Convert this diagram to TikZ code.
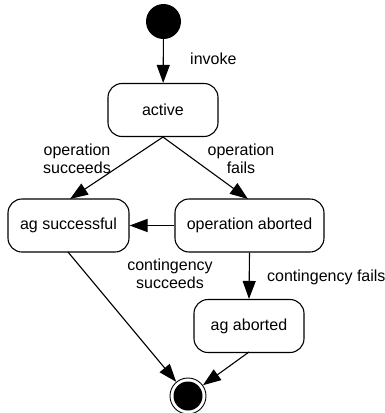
\documentclass[tikz,border=0pt]{standalone}
\usepackage{fontspec}
\setmainfont{Liberation Sans}
\usetikzlibrary{arrows.meta}
\begin{document}
\begin{tikzpicture}[x=1pt,y=-1pt,
  every node/.style={font=\fontsize{16}{18}\selectfont},
  state/.style={draw,line width=1.1pt,rounded corners=14pt,minimum height=53pt,inner sep=0pt},
  trans/.style={draw,line width=1.1pt,-{Triangle[length=18pt,width=13pt]}},
  lbl/.style={align=center,inner sep=0pt}]
\useasboundingbox (0,0) rectangle (385,413);
% start and end pseudo-states
\node[circle,fill=black,minimum size=35pt,inner sep=0pt] (start) at (163.5,21.5) {};
\node[circle,draw,line width=0.9pt,minimum size=36pt,inner sep=0pt] (final) at (188,396) {};
\fill (final.center) circle (14.5pt);
% states
\node[state,minimum width=110pt] (active) at (163,110) {active};
\node[state,minimum width=121pt] (succ) at (68.5,225.5) {ag successful};
\node[state,minimum width=149pt] (opab) at (249.5,225.5) {operation aborted};
\node[state,minimum width=110pt] (agab) at (249,326) {ag aborted};
% transitions
\draw[trans] (start) -- (active);
\draw[trans] (active.south) -- (70,199);
\draw[trans] (active.south) -- (248,199);
\draw[trans] (opab.west) -- (succ.east);
\draw[trans] (opab.south) -- (agab.north);
\draw[trans] (68,252) -- (final);
\draw[trans] (249,352) -- (final);
% labels
\node[lbl,anchor=west] (linv) at (190,59) {invoke};
\node[lbl] (lsucc) at (77,159) {operation\\succeeds};
\node[lbl] (lfail) at (241,159) {operation\\fails};
\node[lbl] (lcs) at (170,274) {contingency\\succeeds};
\node[lbl,anchor=west] (lcf) at (267,277) {contingency fails};
\end{tikzpicture}
\end{document}
